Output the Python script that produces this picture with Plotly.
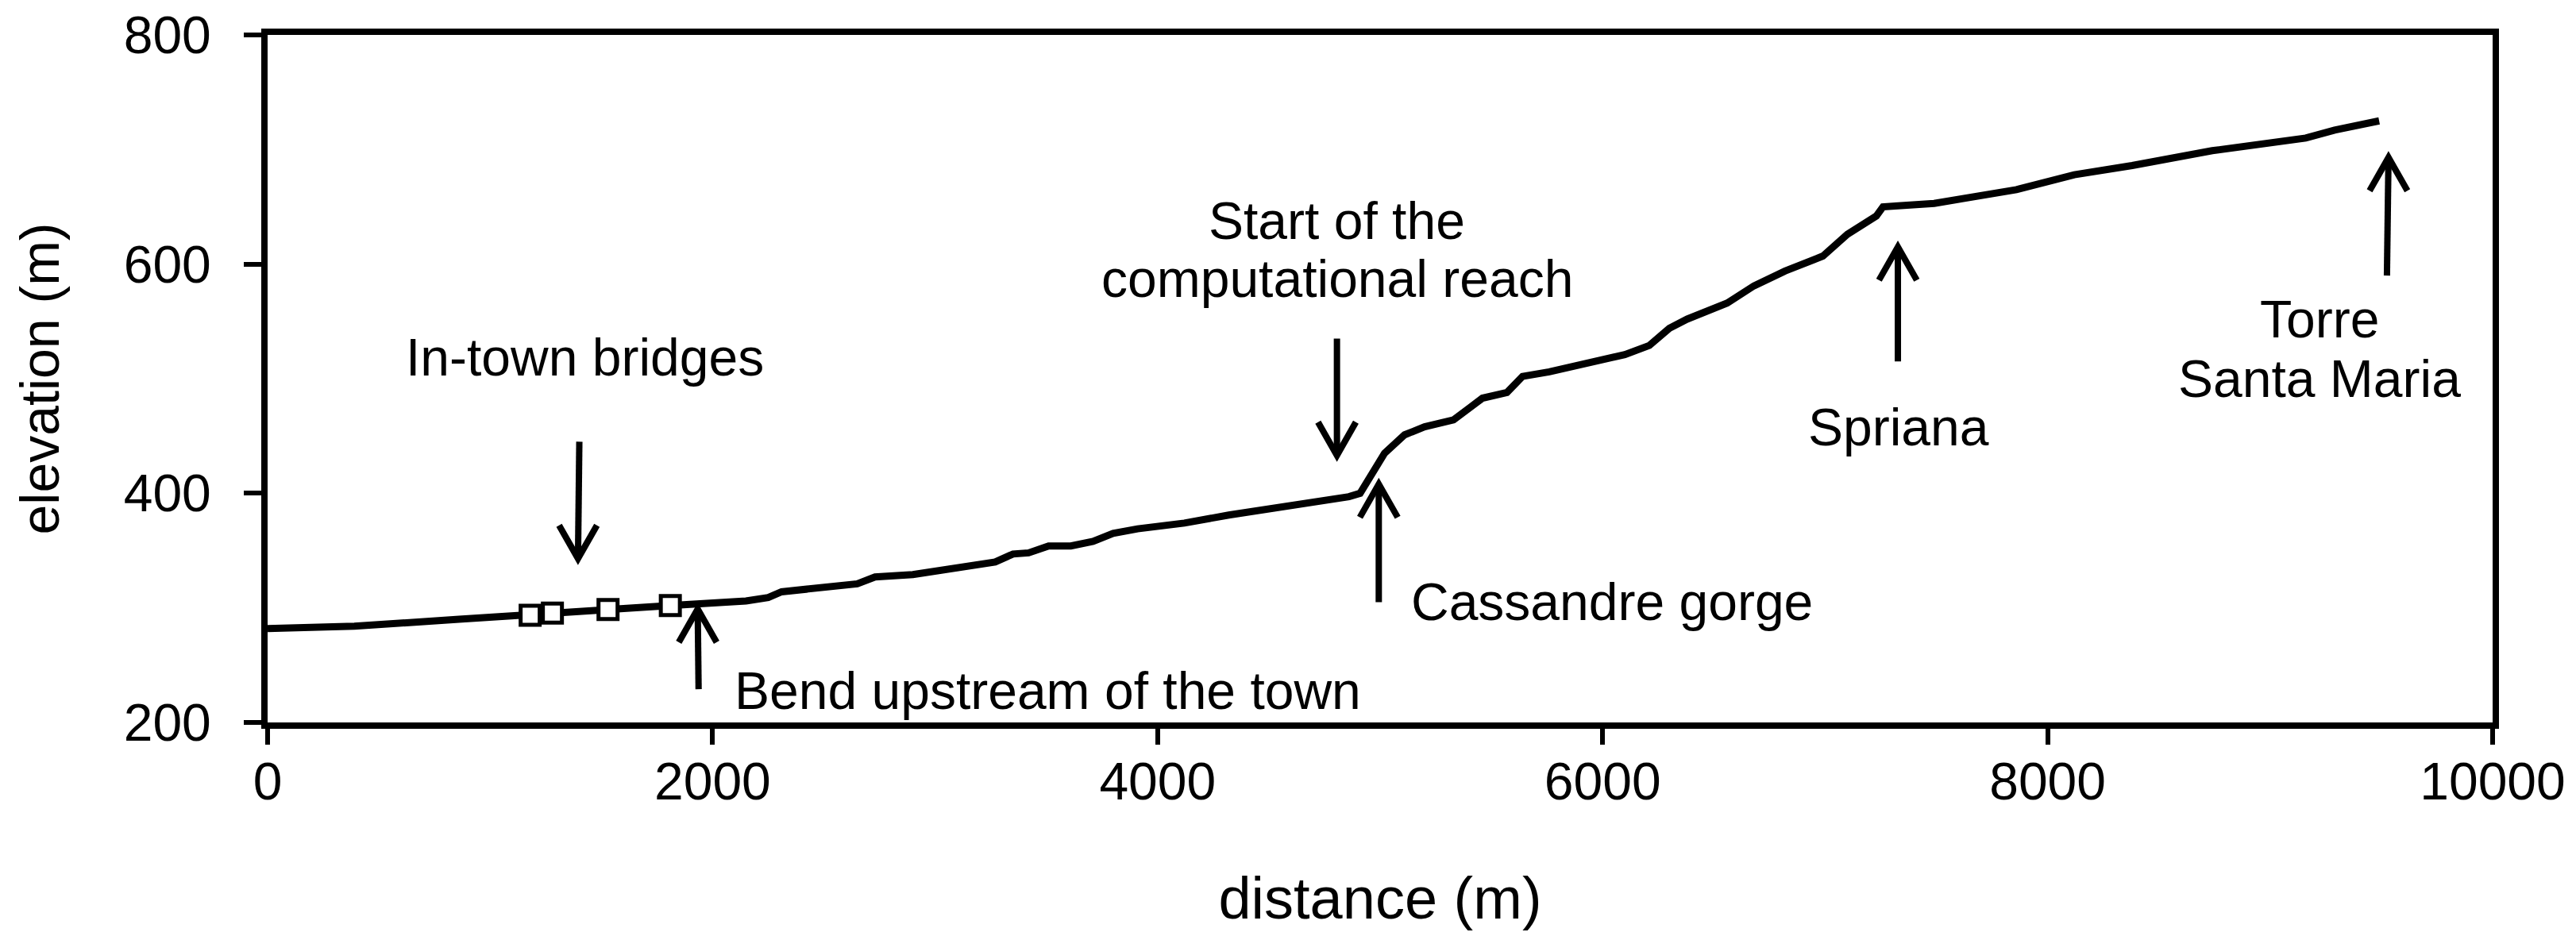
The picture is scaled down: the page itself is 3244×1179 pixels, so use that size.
import plotly.graph_objects as go

# ---- data ----
distance = [0, 390, 860, 1180, 1280, 1530, 1810, 1940, 2150, 2250, 2310, 2650, 2730, 2900,
            3050, 3270, 3350, 3420, 3510, 3610, 3710, 3800, 3910, 4120, 4320, 4530, 4730,
            4860, 4910, 5020, 5110, 5200, 5330, 5460, 5570, 5640, 5760, 5960, 6100, 6210,
            6300, 6380, 6560, 6680, 6820, 6990, 7100, 7230, 7260, 7490, 7700, 7860, 8120,
            8380, 8740, 9160, 9290, 9490]
elevation = [282, 284, 290, 293.5, 295.5, 298.5, 302, 303, 306, 309, 314, 321, 327, 329,
             334, 340, 347, 348, 354, 354, 358, 365, 369, 374, 381, 387, 393,
             397, 400, 435, 451, 458, 464, 483, 488, 502, 506, 515, 521, 529,
             544, 552, 566, 581, 594, 607, 626, 642, 650, 653, 659, 665, 678,
             686, 699, 710, 717, 725]

bridge_x = [1180, 1280, 1530, 1810]
bridge_y = [293.5, 295.5, 298.5, 302]

x_tickvals = [0, 2000, 4000, 6000, 8000, 10000]
x_ticktext = ["0", "2000", "4000", "6000", "8000", "10000"]
y_tickvals = [200, 400, 600, 800]
y_ticktext = ["200", "400", "600", "800"]

# label texts and anchor positions (data coords)
label_text = ["In-town bridges", "Start of the", "computational reach", "Cassandre gorge",
              "Bend upstream of the town", "Spriana", "Torre", "Santa Maria"]
label_x = [1425, 4806, 4806, 5131, 2093, 7330, 9221, 9221]
label_y = [519, 638, 587, 305, 228, 458, 552, 500]
label_anchor = ["center", "center", "center", "left", "left", "center", "center", "center"]

# arrows: tip and tail (data coords)
arrow_tip_x = [1395, 1933, 4806, 4994, 7327, 9532]
arrow_tip_y = [343, 299, 433, 408, 615, 693]
arrow_tail_x = [1401, 1937, 4806, 4994, 7327, 9525]
arrow_tail_y = [445, 229, 535, 305, 515, 590]

FONT = "Liberation Sans, Arial, sans-serif"

fig = go.Figure()
fig.add_trace(go.Scatter(x=distance, y=elevation, mode="lines",
                         line=dict(color="black", width=9), showlegend=False))
fig.add_trace(go.Scatter(x=bridge_x, y=bridge_y, mode="markers",
                         marker=dict(symbol="square", size=24, color="white",
                                     line=dict(color="black", width=5)),
                         showlegend=False))

for t, x, y, a in zip(label_text, label_x, label_y, label_anchor):
    fig.add_annotation(x=x, y=y, text=t, showarrow=False, xanchor=a, yanchor="middle",
                       font=dict(family=FONT, size=66, color="black"))

# arrow head half-width / length in data units
HW, HL = 85, 29
for tx, ty, sx, sy in zip(arrow_tip_x, arrow_tip_y, arrow_tail_x, arrow_tail_y):
    fig.add_shape(type="line", x0=sx, y0=sy, x1=tx, y1=ty,
                  line=dict(color="black", width=8))
    d = 1 if sy < ty else -1
    path = f"M {tx-HW},{ty-d*HL} L {tx},{ty} L {tx+HW},{ty-d*HL}"
    fig.add_shape(type="path", path=path, line=dict(color="black", width=8))

fig.update_layout(
    width=3244, height=1179,
    margin=dict(l=329, r=113, t=36, b=277),
    plot_bgcolor="white", paper_bgcolor="white",
    font=dict(family=FONT, color="black"),
)
fig.update_xaxes(range=[0, 10000], tickvals=x_tickvals, ticktext=x_ticktext,
                 automargin=False, ticklabeloverflow="allow",
                 showgrid=False, zeroline=False, showline=True, linecolor="black",
                 linewidth=8, mirror=True, ticks="outside", ticklen=20, tickwidth=6,
                 tickcolor="black", tickfont=dict(size=66, family=FONT),
                 ticklabelstandoff=-10,
                 title=dict(text="distance (m)", font=dict(size=74, family=FONT), standoff=88))
fig.update_yaxes(range=[200, 800], tickvals=y_tickvals, ticktext=y_ticktext,
                 automargin=False, ticklabeloverflow="allow",
                 showgrid=False, zeroline=False, showline=True, linecolor="black",
                 linewidth=8, mirror=True, ticks="outside", ticklen=22, tickwidth=6,
                 tickcolor="black", tickfont=dict(size=66, family=FONT),
                 ticklabelstandoff=28,
                 title=dict(text="elevation (m)", font=dict(size=68, family=FONT), standoff=62))

fig.write_html("out.html")
